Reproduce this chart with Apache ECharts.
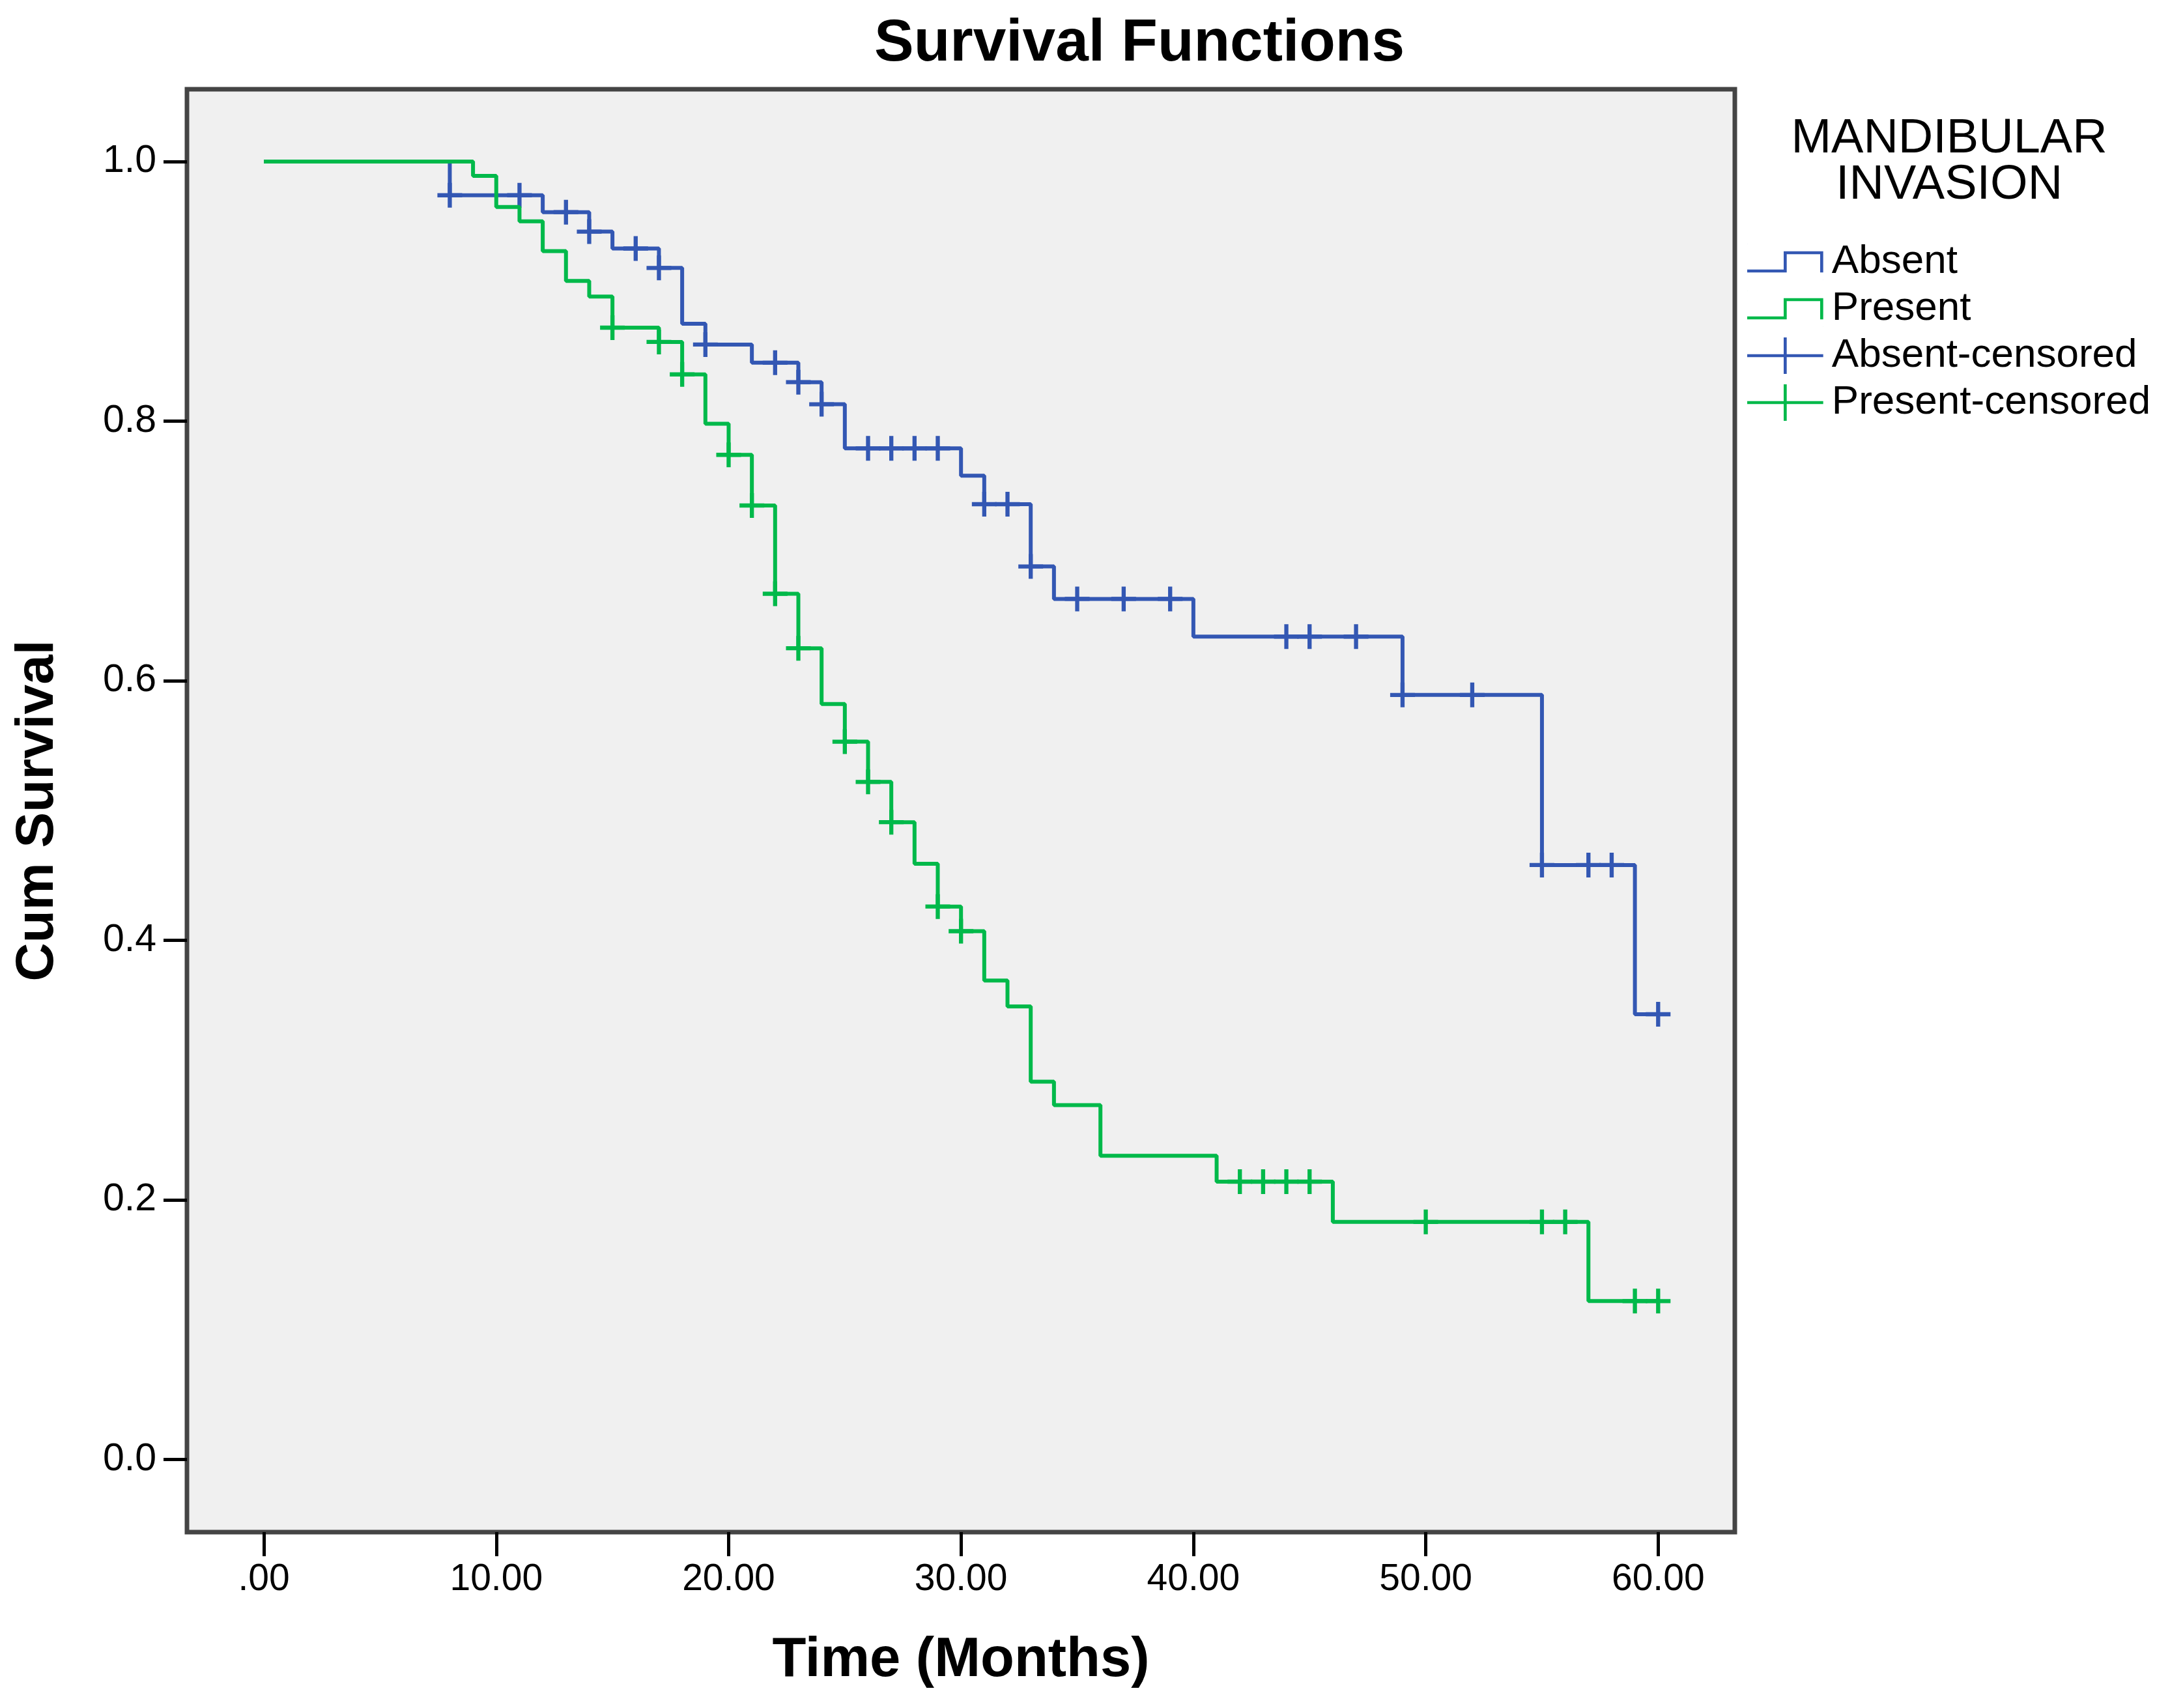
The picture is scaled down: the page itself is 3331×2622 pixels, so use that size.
<!DOCTYPE html>
<html>
<head>
<meta charset="utf-8">
<title>Survival Functions</title>
<script src="https://cdn.jsdelivr.net/npm/echarts@6/dist/echarts.min.js"></script>
<style>
  html, body { margin: 0; padding: 0; background: #fff; }
  #chart { width: 3331px; height: 2622px; }
</style>
</head>
<body>
<div id="chart"></div>
<script>
// Kaplan-Meier steps: time (months) and survival after the drop
var absentTimes = [0, 8, 12, 14, 15, 17, 18, 19, 21, 23, 24, 25, 30, 31, 33, 34, 40, 49, 55, 59, 60];
var absentSurv  = [1.0, 0.974, 0.961, 0.946, 0.933, 0.918, 0.875, 0.859, 0.845, 0.830, 0.813, 0.779, 0.758, 0.736, 0.688, 0.663, 0.634, 0.589, 0.458, 0.343, 0.343];
var absentCensored = [8, 11, 13, 14, 16, 17, 19, 22, 23, 24, 26, 27, 28, 29, 31, 32, 33, 35, 37, 39, 44, 45, 47, 49, 52, 55, 57, 58, 60];

var presentTimes = [0, 9, 10, 11, 12, 13, 14, 15, 17, 18, 19, 20, 21, 22, 23, 24, 25, 26, 27, 28, 29, 30, 31, 32, 33, 34, 36, 41, 46, 57, 60];
var presentSurv  = [1.0, 0.989, 0.965, 0.954, 0.931, 0.908, 0.896, 0.872, 0.861, 0.836, 0.798, 0.774, 0.735, 0.667, 0.625, 0.582, 0.553, 0.522, 0.491, 0.459, 0.426, 0.407, 0.369, 0.349, 0.291, 0.273, 0.234, 0.214, 0.183, 0.122, 0.122];
var presentCensored = [15, 17, 18, 20, 21, 22, 23, 25, 26, 27, 29, 30, 42, 43, 44, 45, 50, 55, 56, 59, 60];

var xTicks = [0, 10, 20, 30, 40, 50, 60];
var yTicks = [0, 0.2, 0.4, 0.6, 0.8, 1.0];

var FONT = '"Liberation Sans", Arial, sans-serif';
var BLUE = '#3357b3';
var GREEN = '#00b94a';

// thin plus sign used for censored cases
var CROSS = 'path://M5,0 H7 V5 H12 V7 H7 V12 H5 V7 H0 V5 H5 Z';
// legend icons
var STEP_ICON = 'path://M0,0 h0.05 v0.05 h-0.05 Z M24.95,11.95 h0.05 v0.05 h-0.05 Z M0,8.5 H12 V2.5 H25 V9.5 H24 V3.5 H13 V9.5 H0 Z';
var PLUS_ICON = 'path://M0,5.5 H12 V0 H13 V5.5 H25 V6.5 H13 V12 H12 V6.5 H0 Z';

function pairs(xs, ys) {
    var out = [];
    for (var i = 0; i < xs.length; i++) out.push([xs[i], ys[i]]);
    return out;
}

// survival value of the step curve at time t
function survAt(times, surv, t) {
    var v = surv[0];
    for (var i = 0; i < times.length; i++) {
        if (times[i] <= t) v = surv[i];
    }
    return v;
}

function censorPoints(cens, times, surv) {
    return cens.map(function (t) { return [t, survAt(times, surv, t)]; });
}

var chart = echarts.init(document.getElementById('chart'));

var option = {
    animation: false,
    backgroundColor: '#fff',
    textStyle: { fontFamily: FONT },
    graphic: [
        {
            type: 'text', x: 1749, y: 68,
            style: {
                text: 'Survival Functions', fill: '#000',
                font: 'bold 91px ' + FONT, align: 'center', verticalAlign: 'middle'
            }
        },
        {
            type: 'text', x: 2992, y: 249,
            style: {
                text: 'MANDIBULAR\nINVASION', fill: '#000', lineHeight: 71,
                font: '74px ' + FONT, align: 'center', verticalAlign: 'middle'
            }
        }
    ],
    grid: {
        left: 287, right: 668, top: 137, bottom: 270,
        show: true, backgroundColor: '#f0f0f0',
        borderColor: '#444', borderWidth: 7
    },
    legend: {
        orient: 'vertical',
        left: 2677, top: 366,
        itemWidth: 117, itemHeight: 56, itemGap: 10,
        textStyle: { fontSize: 62, color: '#000', fontFamily: FONT, lineHeight: 62, padding: [0, 0, 0, 8] },
        data: [
            { name: 'Absent', icon: STEP_ICON },
            { name: 'Present', icon: STEP_ICON },
            { name: 'Absent-censored', icon: PLUS_ICON },
            { name: 'Present-censored', icon: PLUS_ICON }
        ]
    },
    xAxis: {
        type: 'value', min: -3.31, max: 63.3,
        name: 'Time (Months)', nameLocation: 'middle', nameGap: 155,
        nameTextStyle: { fontSize: 85, fontWeight: 'bold', color: '#000', fontFamily: FONT },
        axisLine: { show: false, onZero: false },
        axisTick: { show: true, length: 37, customValues: xTicks, lineStyle: { color: '#000', width: 5 } },
        axisLabel: {
            customValues: xTicks, margin: 45, fontSize: 57, color: '#000', fontFamily: FONT,
            formatter: function (v) { return v === 0 ? '.00' : v.toFixed(2); }
        },
        splitLine: { show: false }
    },
    yAxis: {
        type: 'value', min: -0.056, max: 1.0557,
        name: 'Cum Survival', nameLocation: 'middle', nameGap: 188,
        nameTextStyle: { fontSize: 82, fontWeight: 'bold', color: '#000', fontFamily: FONT },
        axisLine: { show: false, onZero: false },
        axisTick: { show: true, length: 36, customValues: yTicks, lineStyle: { color: '#000', width: 5 } },
        axisLabel: {
            customValues: yTicks, margin: 47, fontSize: 59, color: '#000', fontFamily: FONT,
            formatter: function (v) { return v.toFixed(1); }
        },
        splitLine: { show: false }
    },
    series: [
        {
            name: 'Absent', type: 'line', step: 'end', symbol: 'none',
            data: pairs(absentTimes, absentSurv),
            itemStyle: { color: BLUE },
            lineStyle: { color: BLUE, width: 6 }, z: 2
        },
        {
            name: 'Absent-censored', type: 'scatter', symbol: CROSS, symbolSize: 38,
            data: censorPoints(absentCensored, absentTimes, absentSurv),
            itemStyle: { color: BLUE, opacity: 1 }, z: 3
        },
        {
            name: 'Present', type: 'line', step: 'end', symbol: 'none',
            data: pairs(presentTimes, presentSurv),
            itemStyle: { color: GREEN },
            lineStyle: { color: GREEN, width: 6 }, z: 4
        },
        {
            name: 'Present-censored', type: 'scatter', symbol: CROSS, symbolSize: 38,
            data: censorPoints(presentCensored, presentTimes, presentSurv),
            itemStyle: { color: GREEN, opacity: 1 }, z: 5
        }
    ]
};

chart.setOption(option);
</script>
</body>
</html>
